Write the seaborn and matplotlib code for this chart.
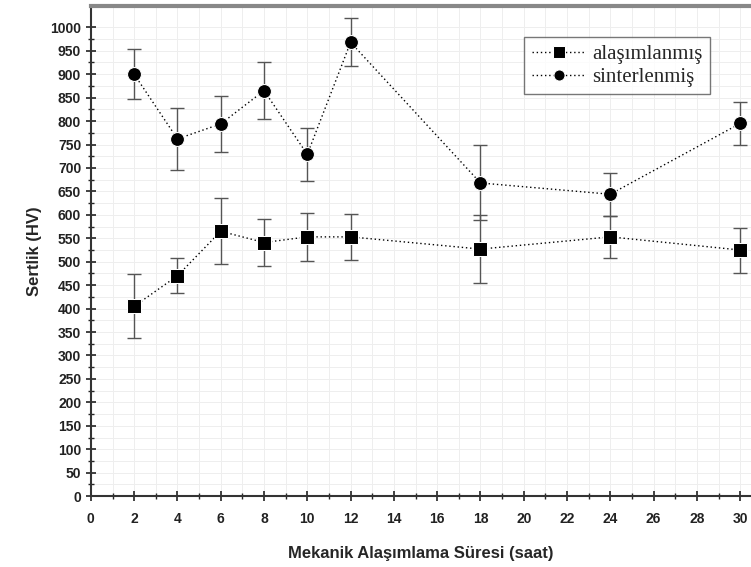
import pandas as pd
import matplotlib.pyplot as plt
import seaborn as sns

# Values
sure = [2, 4, 6, 8, 10, 12, 18, 24, 30]
alasim = [405, 470, 565, 541, 553, 553, 527, 553, 525]
alasim_err = [68, 37, 70, 51, 51, 49, 72, 44, 48]
sinter = [900, 762, 794, 865, 729, 968, 668, 644, 795]
sinter_err = [53, 66, 60, 61, 56, 51, 80, 46, 45]
labels = ['alaşımlanmış', 'sinterlenmiş']

df = pd.DataFrame({
    'sure': sure * 2,
    'sertlik': alasim + sinter,
    'hata': alasim_err + sinter_err,
    'grup': [labels[0]] * len(sure) + [labels[1]] * len(sure),
})

sns.set_theme(style="white")
plt.rcParams['font.family'] = ['Liberation Sans', 'DejaVu Sans']

fig = plt.figure(figsize=(7.51, 5.67), dpi=100)
ax = fig.add_axes([0.121, 0.125, 0.879, 0.864])

# error bars first (grey), then lines and markers
for g in labels:
    sub = df[df['grup'] == g]
    ax.errorbar(sub['sure'], sub['sertlik'], yerr=sub['hata'], fmt='none',
                ecolor='#555555', elinewidth=1.0, capsize=5, capthick=1.0, zorder=2)

sns.lineplot(data=df, x='sure', y='sertlik', hue='grup', style='grup',
             markers={labels[0]: 's', labels[1]: 'o'},
             dashes={labels[0]: (1, 2), labels[1]: (1, 2)},
             palette={labels[0]: 'black', labels[1]: 'black'},
             markersize=10, linewidth=1.0, ax=ax, zorder=3)

ax.set_xlim(0, 30.5)
ax.set_ylim(0, 1045)
ax.set_xticks(range(0, 31, 2))
ax.set_yticks(range(0, 1001, 50))
ax.set_xticks(range(1, 31, 2), minor=True)
ax.set_yticks(range(25, 1001, 50), minor=True)
ax.grid(True, which='both', color='#eeeeee', linewidth=0.7)
ax.tick_params(axis='both', which='major', direction='inout', length=7, width=1.2,
               labelsize=10, colors='#222222', left=True, bottom=True)
ax.tick_params(axis='x', which='major', pad=8)
ax.tick_params(axis='both', which='minor', direction='inout', length=4, width=1.0,
               left=True, bottom=True)
for t in ax.get_xticklabels() + ax.get_yticklabels():
    t.set_fontweight('bold')

for s in ['left', 'bottom']:
    ax.spines[s].set_color('#333333')
    ax.spines[s].set_linewidth(1.5)
ax.spines['top'].set_color('#888888')
ax.spines['top'].set_linewidth(3)
ax.spines['right'].set_visible(False)

ax.set_xlabel('Mekanik Alaşımlama Süresi (saat)', fontsize=12, fontweight='bold', labelpad=14)
ax.set_ylabel('Sertlik (HV)', fontsize=12, fontweight='bold', labelpad=6)

leg = ax.legend(loc='upper left', bbox_to_anchor=(0.641, 0.958), frameon=True, fancybox=False,
                edgecolor='#555555', prop={'family': 'Liberation Serif', 'size': 15},
                handlelength=2.6, borderpad=0.35, labelspacing=0.15, handletextpad=0.3,
                markerscale=0.8)
leg.get_frame().set_linewidth(1.0)

fig.savefig('out.png', dpi=100)
